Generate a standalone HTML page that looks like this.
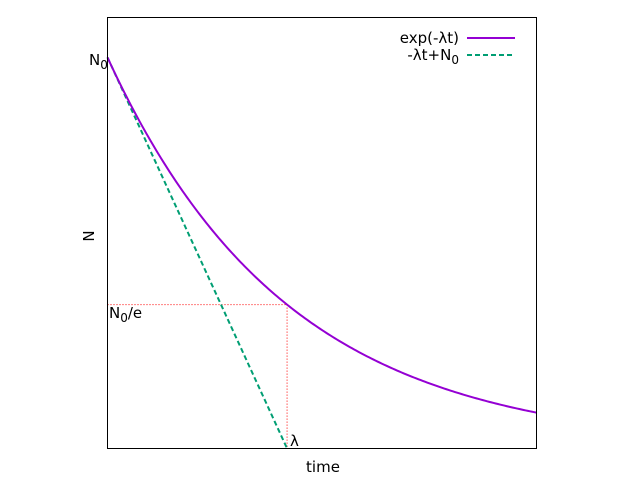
<!DOCTYPE html>
<html><head><meta charset="utf-8"><style>
body{margin:0;background:#fff}
svg{display:block;font-family:"DejaVu Sans","Liberation Sans",sans-serif;font-size:15px}
</style></head><body>
<svg id="chart" width="640" height="480" viewBox="0 0 640 480" xmlns="http://www.w3.org/2000/svg">
<rect x="0" y="0" width="640" height="480" fill="#fff"/>
<g id="marks"></g>
<rect x="107.5" y="17.5" width="429" height="431" fill="none" stroke="#000" stroke-width="1"/>
<text x="94" y="236" text-anchor="middle" transform="rotate(-90 94 236)">N</text>
<text x="323" y="472" text-anchor="middle">time</text>
<text x="89" y="65">N<tspan font-size="12" dy="4">0</tspan></text>
<text x="109" y="318">N<tspan font-size="12" dy="4">0</tspan><tspan dy="-4">/e</tspan></text>
<text x="290" y="446">λ</text>
<g>
<text x="459" y="43" text-anchor="end">exp(-λt)</text>
<line x1="467" y1="38" x2="515" y2="38" stroke="#9400d3" stroke-width="2"/>
<text x="459" y="60" text-anchor="end">-λt+N<tspan font-size="12" dy="4">0</tspan></text>
<line x1="467" y1="55" x2="515" y2="55" stroke="#009e73" stroke-width="2" stroke-dasharray="5,3"/>
</g>
</svg>
<script>
const lambda = [1];
const n0 = [1];
const tRange = [0, 2.389];
const nRange = [0, 1.102];
const X0=107.5,X1=536.5,Y0=448.5,Y1=17.5;
function sx(t){return X0+(t-tRange[0])/(tRange[1]-tRange[0])*(X1-X0);}
function sy(n){return Y0-(n-nRange[0])/(nRange[1]-nRange[0])*(Y0-Y1);}
const g=document.getElementById('marks');
const NS='http://www.w3.org/2000/svg';
function mk(tag,attrs){const e=document.createElementNS(NS,tag);for(const k in attrs)e.setAttribute(k,attrs[k]);g.appendChild(e);return e;}
const L=lambda[0],N=n0[0];
let h=mk('line',{x1:sx(0),y1:sy(N/Math.E),x2:sx(1/L),y2:sy(N/Math.E),stroke:'#ff0000','stroke-width':1,'stroke-dasharray':'1,2'});


let v=mk('line',{x1:sx(1/L),y1:sy(N/Math.E),x2:sx(1/L),y2:sy(0),stroke:'#ff0000','stroke-width':1,'stroke-dasharray':'1,2'});


let lin=mk('line',{x1:sx(0),y1:sy(N),x2:sx(N/L),y2:sy(0),stroke:'#009e73','stroke-width':2,'stroke-dasharray':'5,3'});


let d='';
for(let i=0;i<=200;i++){const t=tRange[0]+(tRange[1]-tRange[0])*i/200;d+=(i?'L':'M')+sx(t).toFixed(2)+','+sy(N*Math.exp(-L*t)).toFixed(2);}
let ex=mk('path',{d:d,fill:'none',stroke:'#9400d3','stroke-width':2});


</script>
</body></html>
